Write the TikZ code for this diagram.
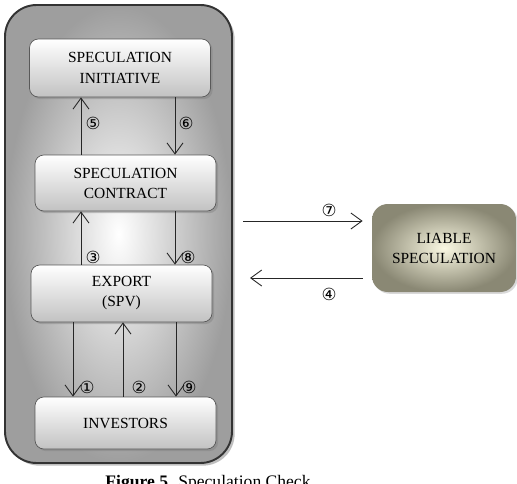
\documentclass[tikz,border=0pt]{standalone}
\usepackage{fontspec}
\setmainfont{Liberation Serif}
\newfontfamily\circfont{DejaVu Sans}
\usetikzlibrary{arrows.meta,shadows}

\definecolor{liabin}{RGB}{250,248,226}
\definecolor{liabout}{RGB}{138,136,116}
\tikzset{
  flowbox/.style={draw=black!65,rounded corners=5pt,top color=white,bottom color=black!24,
    drop shadow={shadow xshift=1.2pt,shadow yshift=-1.2pt,opacity=0.45},
    minimum width=3.62cm,align=center,font=\fontsize{8.8}{11.4}\selectfont,inner sep=2pt},
  numlbl/.style={font=\circfont\fontsize{9.5}{9.5}\selectfont,inner sep=0pt},
  flow/.style={-{Straight Barb[length=2.2mm,width=3.2mm]},black!85,line width=0.5pt}
}

\begin{document}
\begin{tikzpicture}
\useasboundingbox (0,0) rectangle (10.34,9.66);
% outer frame
\node[draw=black!80,line width=1.1pt,rounded corners=18pt,shading=radial,inner color=white,outer color=black!38,
  drop shadow={shadow xshift=1.5pt,shadow yshift=-1.5pt,opacity=0.5},minimum width=4.54cm,minimum height=9.16cm] (frame) at (2.37,4.98) {};
% boxes
\node[flowbox,minimum height=1.16cm] (init) at (2.40,8.30) {SPECULATION\\INITIATIVE};
\node[flowbox,minimum height=1.12cm] (contract) at (2.51,6.00) {SPECULATION\\CONTRACT};
\node[flowbox,minimum height=1.14cm] (export) at (2.43,3.79) {EXPORT\\(SPV)};
\node[flowbox,minimum height=1.04cm] (investors) at (2.51,1.20) {INVESTORS};
\node[rounded corners=9pt,shading=radial,inner color=liabin,outer color=liabout,
  drop shadow={shadow xshift=1pt,shadow yshift=-1pt,opacity=0.3},
  minimum width=2.88cm,minimum height=1.76cm,align=center,font=\fontsize{8.8}{11.4}\selectfont] (liable) at (8.88,4.70) {LIABLE\\SPECULATION};
% arrow columns
\coordinate (xa) at (1.62,0);
\coordinate (xb) at (3.50,0);
\coordinate (xc) at (1.46,0);
\coordinate (xd) at (2.46,0);
\coordinate (xe) at (3.52,0);
\coordinate (out7) at (4.86,5.24);
\coordinate (in4) at (5.00,4.10);
\draw[flow] (contract.north -| xa) -- (init.south -| xa);
\draw[flow] (init.south -| xb) -- (contract.north -| xb);
\draw[flow] (export.north -| xa) -- (contract.south -| xa);
\draw[flow] (contract.south -| xb) -- (export.north -| xb);
\draw[flow] (export.south -| xc) -- (investors.north -| xc);
\draw[flow] (investors.north -| xd) -- (export.south -| xd);
\draw[flow] (export.south -| xe) -- (investors.north -| xe);
\draw[flow,shorten >=0.18cm] (out7) -- (liable.west |- out7);
\draw[flow,shorten <=0.18cm] (liable.west |- in4) -- (in4);
% labels
\node[numlbl] (n5) at (1.86,7.20) {⑤};
\node[numlbl] (n6) at (3.72,7.20) {⑥};
\node[numlbl] (n3) at (1.86,4.52) {③};
\node[numlbl] (n8) at (3.76,4.52) {⑧};
\node[numlbl] (n1) at (1.74,1.92) {①};
\node[numlbl] (n2) at (2.78,1.92) {②};
\node[numlbl] (n9) at (3.78,1.92) {⑨};
\node[numlbl] (n7) at (6.58,5.46) {⑦};
\node[numlbl] (n4) at (6.58,3.78) {④};
% caption
\node[anchor=north,inner sep=0pt,font=\fontsize{10}{12}\selectfont] (caption) at (4.16,0.17) {\textbf{Figure 5.} Speculation Check};
\end{tikzpicture}
\end{document}
